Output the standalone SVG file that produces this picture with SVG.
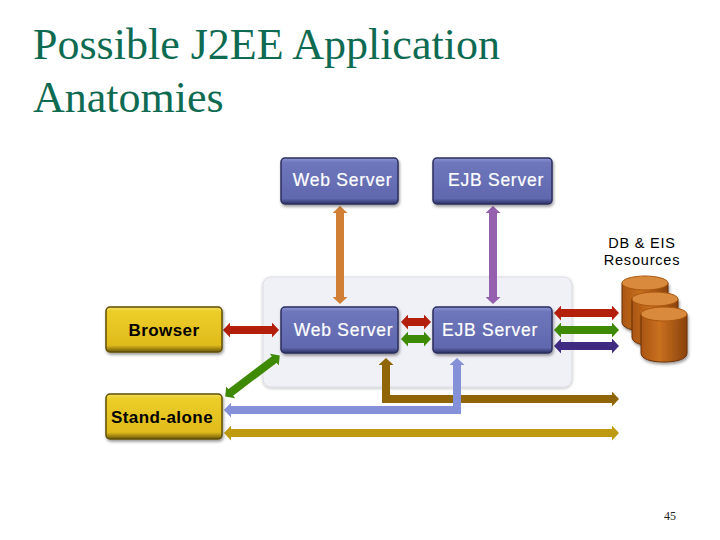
<svg xmlns="http://www.w3.org/2000/svg" width="720" height="540" viewBox="0 0 720 540">
<style>
.t{font-family:"Liberation Serif",serif;font-size:44px;fill:#0e6b52}
.l{font-family:"Liberation Sans",Arial,sans-serif;font-size:17px;text-anchor:middle}
.w{fill:#fff;font-size:17.5px;letter-spacing:.75px;stroke:#fff;stroke-width:.2}
.b{fill:#000;font-size:17px;font-weight:bold;letter-spacing:.45px}
.s{font-size:14.5px;letter-spacing:.8px}
.c{fill:none;stroke-width:8}
.blue{fill:url(#gb);stroke:#2b2f5e;stroke-width:1.5;filter:url(#sh)}
.yel{fill:url(#gy);stroke:#5f4f08;stroke-width:1.5;filter:url(#sh)}
.cb{fill:url(#gc);stroke:#6b3008;stroke-width:1;filter:url(#sh)}
.ct{fill:#d98a3c;stroke:#a9570f;stroke-width:1}
</style>
<defs>
<linearGradient id="gb" x1="0" y1="0" x2="0" y2="1"><stop offset="0" stop-color="#8f97d6"/><stop offset=".1" stop-color="#6e76bc"/><stop offset=".88" stop-color="#6068ae"/><stop offset="1" stop-color="#2c3064"/></linearGradient>
<linearGradient id="gy" x1="0" y1="0" x2="0" y2="1"><stop offset="0" stop-color="#f4de60"/><stop offset=".1" stop-color="#ecce2a"/><stop offset=".85" stop-color="#e0bb1c"/><stop offset="1" stop-color="#6a5608"/></linearGradient>
<linearGradient id="gc" x1="0" y1="0" x2="1" y2="0"><stop offset="0" stop-color="#a95512"/><stop offset=".4" stop-color="#c9701f"/><stop offset="1" stop-color="#8a420c"/></linearGradient>
<filter id="sh" x="-10%" y="-10%" width="125%" height="130%"><feDropShadow dx="1" dy="2" stdDeviation="1.5" flood-color="#000" flood-opacity=".4"/></filter>
<filter id="ps" x="-5%" y="-5%" width="110%" height="110%"><feDropShadow dx="0" dy="1" stdDeviation="1.5" flood-color="#000" flood-opacity=".25"/></filter>
<marker id="m" viewBox="0 0 7 15" refX="1" refY="7.5" markerWidth="7" markerHeight="15" markerUnits="userSpaceOnUse" orient="auto-start-reverse"><path d="M0 0L7 7.5L0 15Z" fill="context-stroke"/></marker>
</defs>
<rect width="720" height="540" fill="#fff"/>
<text class="t" x="33" y="59">Possible J2EE Application</text>
<text class="t" x="33" y="112">Anatomies</text>
<rect id="panel" x="263" y="277" width="309" height="110" rx="8" fill="#f0f0f7" stroke="#dcdce4" filter="url(#ps)"/>
<g id="connectors">
<path class="c" stroke="#d07f35" d="M340 212V298" marker-start="url(#m)" marker-end="url(#m)"/>
<path class="c" stroke="#9560ae" d="M493 212V298" marker-start="url(#m)" marker-end="url(#m)"/>
<path class="c" stroke="#b31f0a" d="M229 330H273" marker-start="url(#m)" marker-end="url(#m)"/>
<path class="c" stroke="#3f8a05" d="M230 393L275 359" marker-start="url(#m)" marker-end="url(#m)"/>
<path class="c" stroke="#b31f0a" d="M407 322H425" marker-start="url(#m)" marker-end="url(#m)"/>
<path class="c" stroke="#3f8a05" d="M407 339H425" marker-start="url(#m)" marker-end="url(#m)"/>
<path class="c" stroke="#b31f0a" d="M560 313H613" marker-start="url(#m)" marker-end="url(#m)"/>
<path class="c" stroke="#3f8a05" d="M560 330H613" marker-start="url(#m)" marker-end="url(#m)"/>
<path class="c" stroke="#3e2a80" d="M560 346H613" marker-start="url(#m)" marker-end="url(#m)"/>
<path class="c" stroke="#8f6508" d="M386 364V399H613" marker-start="url(#m)" marker-end="url(#m)"/>
<path class="c" stroke="#8490d8" d="M230 410H457V364" marker-start="url(#m)" marker-end="url(#m)"/>
<path class="c" stroke="#bd9a10" d="M230 433H613" marker-start="url(#m)" marker-end="url(#m)"/>
</g>
<g id="web-top"><rect class="blue" x="281" y="158" width="117" height="46" rx="4"/><text class="l w" x="342.500" y="185.500">Web Server</text></g>
<g id="ejb-top"><rect class="blue" x="433" y="158" width="119" height="46" rx="4"/><text class="l w" x="496" y="185.500">EJB Server</text></g>
<g id="web-low"><rect class="blue" x="281" y="307" width="117" height="46" rx="4"/><text class="l w" x="343.500" y="335.500">Web Server</text></g>
<g id="ejb-low"><rect class="blue" x="433" y="307" width="119" height="46" rx="4"/><text class="l w" x="490" y="335.500">EJB Server</text></g>
<g id="browser"><rect class="yel" x="106" y="307" width="116" height="45" rx="4"/><text class="l b" x="164" y="336">Browser</text></g>
<g id="standalone"><rect class="yel" x="106" y="394" width="116" height="45" rx="4"/><text class="l b" x="162" y="422.500">Stand-alone</text></g>
<g id="db">
<text class="l s" x="642" y="248">DB &amp; EIS</text>
<text class="l s" x="642" y="265">Resources</text>
<path class="cb" d="M622 283V322C622 328 632 331 645 331S668 328 668 322V283Z"/><ellipse class="ct" cx="645" cy="283" rx="23" ry="7"/>
<path class="cb" d="M632 299V337C632 343 642 346 655 346S678 343 678 337V299Z"/><ellipse class="ct" cx="655" cy="299" rx="23" ry="7"/>
<path class="cb" d="M641 314V353C641 359 651 362 664 362S687 359 687 353V314Z"/><ellipse class="ct" cx="664" cy="314" rx="23" ry="7"/>
</g>
<text x="670" y="520" text-anchor="middle" style="font-family:'Liberation Serif',serif;font-size:12px" fill="#222">45</text>
</svg>
